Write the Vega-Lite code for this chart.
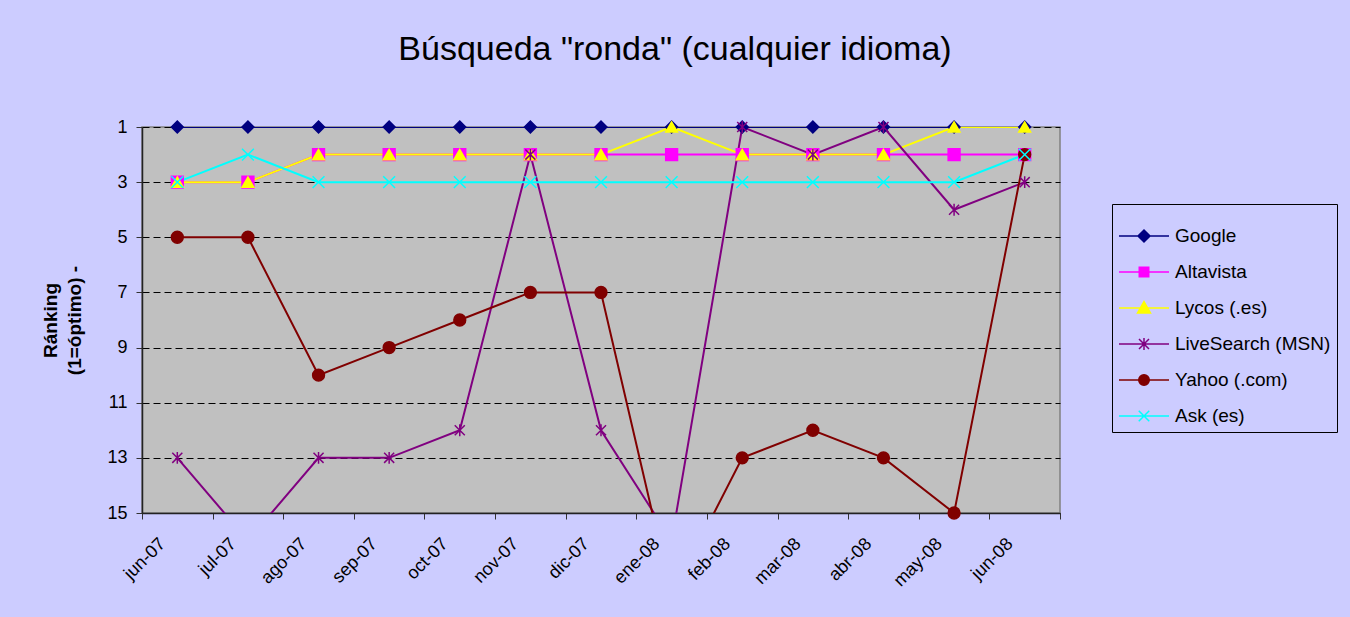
{
  "$schema": "https://vega.github.io/schema/vega-lite/v6.json",
  "width": 918,
  "height": 386,
  "autosize": {"type": "none"},
  "padding": {"left": 142, "top": 127, "right": 290, "bottom": 104},
  "background": "#CCCCFF",
  "title": {
    "text": "Búsqueda \"ronda\" (cualquier idioma)",
    "font": "Liberation Sans",
    "fontSize": 34,
    "fontWeight": "normal",
    "color": "#000000",
    "anchor": "middle",
    "frame": "group",
    "dx": 74,
    "baseline": "alphabetic",
    "offset": 24
  },
  "data": {
    "values": [
      {"month": "jun-07", "engine": "Google", "rank": 1},
      {"month": "jul-07", "engine": "Google", "rank": 1},
      {"month": "ago-07", "engine": "Google", "rank": 1},
      {"month": "sep-07", "engine": "Google", "rank": 1},
      {"month": "oct-07", "engine": "Google", "rank": 1},
      {"month": "nov-07", "engine": "Google", "rank": 1},
      {"month": "dic-07", "engine": "Google", "rank": 1},
      {"month": "ene-08", "engine": "Google", "rank": 1},
      {"month": "feb-08", "engine": "Google", "rank": 1},
      {"month": "mar-08", "engine": "Google", "rank": 1},
      {"month": "abr-08", "engine": "Google", "rank": 1},
      {"month": "may-08", "engine": "Google", "rank": 1},
      {"month": "jun-08", "engine": "Google", "rank": 1},
      {"month": "jun-07", "engine": "Altavista", "rank": 3},
      {"month": "jul-07", "engine": "Altavista", "rank": 3},
      {"month": "ago-07", "engine": "Altavista", "rank": 2},
      {"month": "sep-07", "engine": "Altavista", "rank": 2},
      {"month": "oct-07", "engine": "Altavista", "rank": 2},
      {"month": "nov-07", "engine": "Altavista", "rank": 2},
      {"month": "dic-07", "engine": "Altavista", "rank": 2},
      {"month": "ene-08", "engine": "Altavista", "rank": 2},
      {"month": "feb-08", "engine": "Altavista", "rank": 2},
      {"month": "mar-08", "engine": "Altavista", "rank": 2},
      {"month": "abr-08", "engine": "Altavista", "rank": 2},
      {"month": "may-08", "engine": "Altavista", "rank": 2},
      {"month": "jun-08", "engine": "Altavista", "rank": 2},
      {"month": "jun-07", "engine": "Lycos (.es)", "rank": 3},
      {"month": "jul-07", "engine": "Lycos (.es)", "rank": 3},
      {"month": "ago-07", "engine": "Lycos (.es)", "rank": 2},
      {"month": "sep-07", "engine": "Lycos (.es)", "rank": 2},
      {"month": "oct-07", "engine": "Lycos (.es)", "rank": 2},
      {"month": "nov-07", "engine": "Lycos (.es)", "rank": 2},
      {"month": "dic-07", "engine": "Lycos (.es)", "rank": 2},
      {"month": "ene-08", "engine": "Lycos (.es)", "rank": 1},
      {"month": "feb-08", "engine": "Lycos (.es)", "rank": 2},
      {"month": "mar-08", "engine": "Lycos (.es)", "rank": 2},
      {"month": "abr-08", "engine": "Lycos (.es)", "rank": 2},
      {"month": "may-08", "engine": "Lycos (.es)", "rank": 1},
      {"month": "jun-08", "engine": "Lycos (.es)", "rank": 1},
      {"month": "jun-07", "engine": "LiveSearch (MSN)", "rank": 13},
      {"month": "jul-07", "engine": "LiveSearch (MSN)", "rank": 16},
      {"month": "ago-07", "engine": "LiveSearch (MSN)", "rank": 13},
      {"month": "sep-07", "engine": "LiveSearch (MSN)", "rank": 13},
      {"month": "oct-07", "engine": "LiveSearch (MSN)", "rank": 12},
      {"month": "nov-07", "engine": "LiveSearch (MSN)", "rank": 2},
      {"month": "dic-07", "engine": "LiveSearch (MSN)", "rank": 12},
      {"month": "ene-08", "engine": "LiveSearch (MSN)", "rank": 16},
      {"month": "feb-08", "engine": "LiveSearch (MSN)", "rank": 1},
      {"month": "mar-08", "engine": "LiveSearch (MSN)", "rank": 2},
      {"month": "abr-08", "engine": "LiveSearch (MSN)", "rank": 1},
      {"month": "may-08", "engine": "LiveSearch (MSN)", "rank": 4},
      {"month": "jun-08", "engine": "LiveSearch (MSN)", "rank": 3},
      {"month": "jun-07", "engine": "Yahoo (.com)", "rank": 5},
      {"month": "jul-07", "engine": "Yahoo (.com)", "rank": 5},
      {"month": "ago-07", "engine": "Yahoo (.com)", "rank": 10},
      {"month": "sep-07", "engine": "Yahoo (.com)", "rank": 9},
      {"month": "oct-07", "engine": "Yahoo (.com)", "rank": 8},
      {"month": "nov-07", "engine": "Yahoo (.com)", "rank": 7},
      {"month": "dic-07", "engine": "Yahoo (.com)", "rank": 7},
      {"month": "ene-08", "engine": "Yahoo (.com)", "rank": 18},
      {"month": "feb-08", "engine": "Yahoo (.com)", "rank": 13},
      {"month": "mar-08", "engine": "Yahoo (.com)", "rank": 12},
      {"month": "abr-08", "engine": "Yahoo (.com)", "rank": 13},
      {"month": "may-08", "engine": "Yahoo (.com)", "rank": 15},
      {"month": "jun-08", "engine": "Yahoo (.com)", "rank": 2},
      {"month": "jun-07", "engine": "Ask (es)", "rank": 3},
      {"month": "jul-07", "engine": "Ask (es)", "rank": 2},
      {"month": "ago-07", "engine": "Ask (es)", "rank": 3},
      {"month": "sep-07", "engine": "Ask (es)", "rank": 3},
      {"month": "oct-07", "engine": "Ask (es)", "rank": 3},
      {"month": "nov-07", "engine": "Ask (es)", "rank": 3},
      {"month": "dic-07", "engine": "Ask (es)", "rank": 3},
      {"month": "ene-08", "engine": "Ask (es)", "rank": 3},
      {"month": "feb-08", "engine": "Ask (es)", "rank": 3},
      {"month": "mar-08", "engine": "Ask (es)", "rank": 3},
      {"month": "abr-08", "engine": "Ask (es)", "rank": 3},
      {"month": "may-08", "engine": "Ask (es)", "rank": 3},
      {"month": "jun-08", "engine": "Ask (es)", "rank": 2}
    ]
  },
  "encoding": {
    "x": {
      "field": "month",
      "type": "nominal",
      "sort": ["jun-07", "jul-07", "ago-07", "sep-07", "oct-07", "nov-07", "dic-07", "ene-08", "feb-08", "mar-08", "abr-08", "may-08", "jun-08"],
      "scale": {"paddingInner": 0, "paddingOuter": 0},
      "axis": {
        "title": null,
        "labelAngle": -45,
        "labelAlign": "right",
        "labelBaseline": "middle",
        "labelFont": "Liberation Sans",
        "labelFontSize": 18,
        "labelColor": "#000000",
        "labelPadding": 22,
        "labelOffset": -15,
        "tickBand": "extent",
        "tickSize": 6,
        "tickColor": "#333333",
        "domainColor": "#222222",
        "domainWidth": 1.5,
        "grid": false
      }
    },
    "y": {
      "field": "rank",
      "type": "quantitative",
      "scale": {"domain": [1, 15], "reverse": true, "nice": false, "zero": false},
      "axis": {
        "title": ["Ránking", "(1=óptimo)  -"],
        "titleFont": "Liberation Sans",
        "titleFontSize": 19,
        "titleFontWeight": "bold",
        "titleColor": "#000000",
        "titleLineHeight": 24,
        "titlePadding": 22,
        "values": [1, 3, 5, 7, 9, 11, 13, 15],
        "labelFont": "Liberation Sans",
        "labelFontSize": 18,
        "labelColor": "#000000",
        "labelPadding": 9,
        "tickSize": 6,
        "tickColor": "#333333",
        "domainColor": "#222222",
        "domainWidth": 1.5,
        "grid": true,
        "gridColor": "#000000",
        "gridDash": [7, 4],
        "gridWidth": 1
      }
    },
    "color": {
      "field": "engine",
      "type": "nominal",
      "scale": {
        "domain": ["Google", "Altavista", "Lycos (.es)", "LiveSearch (MSN)", "Yahoo (.com)", "Ask (es)"],
        "range": ["#000080", "#FF00FF", "#FFFF00", "#800080", "#800000", "#00FFFF"]
      },
      "legend": {
        "title": null,
        "orient": "none",
        "legendX": 970,
        "legendY": 77,
        "direction": "vertical",
        "labelFont": "Liberation Sans",
        "labelFontSize": 19,
        "labelColor": "#000000",
        "labelOffset": 5,
        "symbolSize": 2500,
        "symbolStrokeWidth": 1.5,
        "rowPadding": -3,
        "padding": 6,
        "strokeColor": "#000000",
        "fillColor": "#CCCCFF",
        "labelLimit": 300,
        "encode": {
          "symbols": {
            "update": {
              "shape": {"signal": "datum.value === 'Google' ? 'M-1,0L1,0M0,-0.24L0.24,0L0,0.24L-0.24,0Z' : datum.value === 'Altavista' ? 'M-1,0L1,0M-0.19,-0.19L0.19,-0.19L0.19,0.19L-0.19,0.19Z' : datum.value === 'Lycos (.es)' ? 'M-1,0L1,0M0,-0.26L0.26,0.2L-0.26,0.2Z' : datum.value === 'LiveSearch (MSN)' ? 'M-1,0L1,0M-0.2,-0.2L0.2,0.2M-0.2,0.2L0.2,-0.2M0,-0.24L0,0.24' : datum.value === 'Yahoo (.com)' ? 'M-1,0L1,0M-0.21,0A0.21,0.21,0,1,1,0.21,0A0.21,0.21,0,1,1,-0.21,0Z' : 'M-1,0L1,0M-0.21,-0.21L0.21,0.21M-0.21,0.21L0.21,-0.21'"},
              "strokeWidth": {"value": 1.5}
            }
          }
        }
      }
    }
  },
  "layer": [
    {
      "mark": {"type": "line", "strokeWidth": 2, "clip": true}
    },
    {
      "transform": [{"filter": "datum.rank <= 15"}],
      "mark": {"type": "point", "filled": true, "size": 140, "strokeWidth": 1.5, "opacity": 1},
      "encoding": {
        "stroke": {
          "field": "engine",
          "type": "nominal",
          "scale": {
            "domain": ["Google", "Altavista", "Lycos (.es)", "LiveSearch (MSN)", "Yahoo (.com)", "Ask (es)"],
            "range": ["#000080", "#FF00FF", "#FFFF00", "#800080", "#800000", "#00FFFF"]
          },
          "legend": null
        },
        "shape": {
          "field": "engine",
          "type": "nominal",
          "scale": {
            "domain": ["Ask (es)", "Yahoo (.com)", "LiveSearch (MSN)", "Lycos (.es)", "Altavista", "Google"],
            "range": ["M-1,-1L1,1M-1,1L1,-1", "circle", "M-0.85,-0.85L0.85,0.85M-0.85,0.85L0.85,-0.85M0,-1L0,1", "triangle-up", "square", "diamond"]
          },
          "legend": null
        }
      }
    }
  ],
  "config": {
    "view": {"fill": "#C0C0C0", "stroke": "#808080", "strokeWidth": 1.5},
    "font": "Liberation Sans"
  }
}
